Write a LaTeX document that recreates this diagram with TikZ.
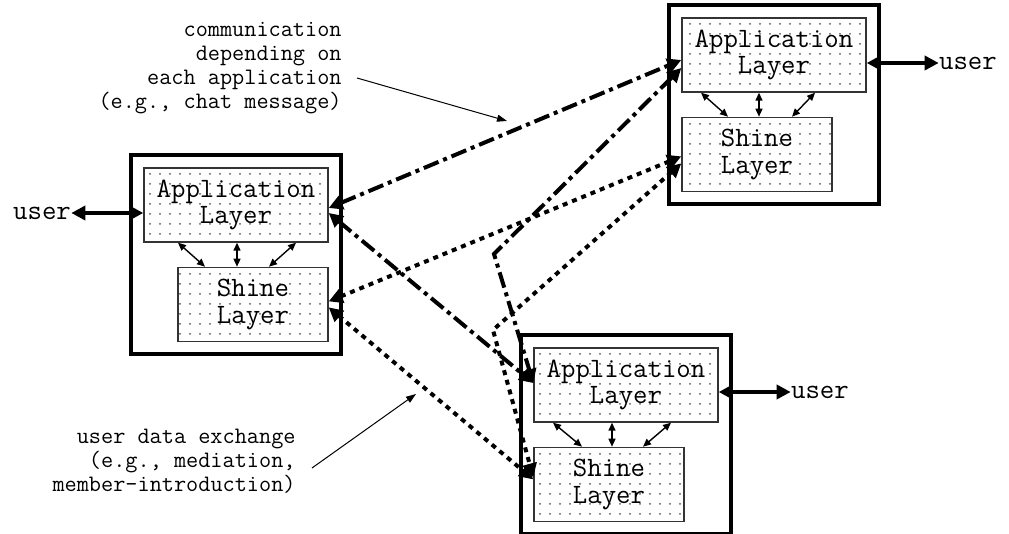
\documentclass[tikz,border=0pt]{standalone}
\usepackage{fontspec}
\usepackage{tikz}
\usetikzlibrary{arrows.meta,positioning,fit,calc,patterns}

% light dot raster for the layer boxes
\pgfdeclarepatternformonly{sparse dots}{\pgfqpoint{-1pt}{-1pt}}{\pgfqpoint{1pt}{1pt}}{\pgfqpoint{5pt}{5pt}}{%
  \pgfpathcircle{\pgfqpoint{0pt}{0pt}}{0.5pt}\pgfusepath{fill}}

\tikzset{
  layerbox/.style={draw=black!80, line width=0.7pt, pattern=sparse dots, pattern color=black!65,
    align=center, inner sep=0pt, minimum height=37pt, font=\ttfamily\fontsize{14pt}{13.2pt}\selectfont},
  applayer/.style={layerbox, minimum width=92pt},
  shinelayer/.style={layerbox, minimum width=75pt},
  host/.style={draw, line width=2pt, inner sep=6pt},
  link/.style={<->, line width=2pt},
  apptalk/.style={link, dash pattern=on 8pt off 2.5pt on 2pt off 2.5pt},
  datatalk/.style={link, dash pattern=on 2.5pt off 2.5pt},
  layerlink/.style={{Triangle[length=4pt,width=3.5pt]}-{Triangle[length=4pt,width=3.5pt]}, line width=0.7pt},
  pointer/.style={-{Triangle[length=5pt,width=3.5pt]}, line width=0.5pt},
  usertag/.style={inner sep=0pt, font=\ttfamily\fontsize{14pt}{13.2pt}\selectfont},
  remark/.style={align=right, inner sep=0pt, font=\ttfamily\fontsize{11.8pt}{12pt}\selectfont},
}

\begin{document}
\begin{tikzpicture}[x=0.5pt, y=-0.5pt, >={Triangle[length=7pt,width=7pt]}]
  \useasboundingbox (0,0) rectangle (1009,534);

  % three hosts, each with two layers
  \node[applayer] (appa) at (236,205) {Application\\Layer};
  \node[shinelayer, below=12pt of appa.south east, anchor=north east] (shinea) {Shine\\Layer};
  \node[applayer] (appb) at (774,55) {Application\\Layer};
  \node[shinelayer, below=12pt of appb.south west, anchor=north west] (shineb) {Shine\\Layer};
  \node[applayer] (appc) at (626,385) {Application\\Layer};
  \node[shinelayer, below=12pt of appc.south west, anchor=north west] (shinec) {Shine\\Layer};

  \node[host, fit=(appa)(shinea)] (hosta) {};
  \node[host, fit=(appb)(shineb)] (hostb) {};
  \node[host, fit=(appc)(shinec)] (hostc) {};

  % layer to layer inside a host
  \draw[layerlink] (178,0 |- appa.south) -- (205,0 |- shinea.north);
  \draw[layerlink] (237,0 |- appa.south) -- (237,0 |- shinea.north);
  \draw[layerlink] (296,0 |- appa.south) -- (269,0 |- shinea.north);
  \draw[layerlink] (701,0 |- appb.south) -- (728,0 |- shineb.north);
  \draw[layerlink] (759,0 |- appb.south) -- (759,0 |- shineb.north);
  \draw[layerlink] (815,0 |- appb.south) -- (792,0 |- shineb.north);
  \draw[layerlink] (553,0 |- appc.south) -- (582,0 |- shinec.north);
  \draw[layerlink] (612,0 |- appc.south) -- (612,0 |- shinec.north);
  \draw[layerlink] (671,0 |- appc.south) -- (643,0 |- shinec.north);

  % users
  \node[usertag, left=36pt of appa, yshift=-4pt] (usera) {user};
  \node[usertag, right=36pt of appb, yshift=-4pt] (userb) {user};
  \node[usertag, right=36pt of appc, yshift=-3.5pt] (userc) {user};
  \draw[link] (usera) -- (usera -| appa.west);
  \draw[link] (userb) -- (userb -| appb.east);
  \draw[link] (userc) -- (userc -| appc.east);

  % application traffic
  \coordinate (bendapp) at (494,254);
  \draw[apptalk] ($(appa.east)+(0,3)$) -- ($(appb.west)+(0,5)$);
  \draw[apptalk] ($(appa.east)+(0,8)$) -- ($(appc.west)+(0,-2)$);
  \draw[apptalk] ($(appb.west)+(0,13)$) -- (bendapp) -- ($(appc.west)+(0,-2)$);

  % shine traffic
  \coordinate (benddata) at (493,330);
  \draw[datatalk] ($(shinea.east)+(0,-3)$) -- ($(shineb.west)+(0,2)$);
  \draw[datatalk] ($(shinea.east)+(0,3)$) -- ($(shinec.west)+(0,-5)$);
  \draw[datatalk] ($(shineb.west)+(0,9)$) -- (benddata) -- ($(shinec.west)+(0,-7)$);

  % remarks
  \node[remark, anchor=east] (commnote) at (342,68)
    {communication\\depending on\\each application\\(e.g., chat message)};
  \node[remark, anchor=east] (datanote) at (296,461)
    {user data exchange\\(e.g., mediation,\\member-introduction)};
  \coordinate (commtip) at (507,121);
  \coordinate (datatip) at (416,394);
  \draw[pointer] ([xshift=7.5pt,yshift=-5pt]commnote.east) -- (commtip);
  \draw[pointer] ([xshift=8pt,yshift=-3.5pt]datanote.east) -- (datatip);
\end{tikzpicture}
\end{document}
